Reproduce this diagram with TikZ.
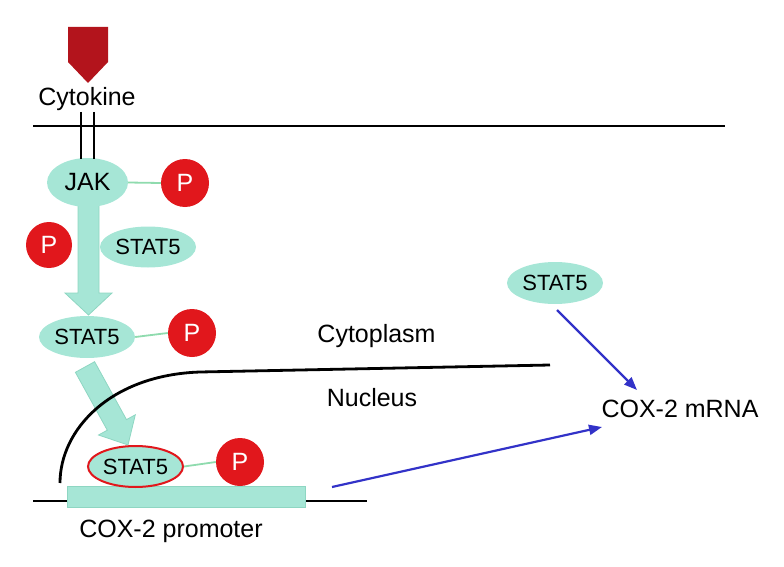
\documentclass[tikz,border=0pt]{standalone}
\usepackage{fontspec}
\setmainfont{Liberation Sans}
\usetikzlibrary{shapes.geometric,arrows.meta}
\definecolor{teal1}{HTML}{A6E6D6}
\definecolor{tealedge}{HTML}{8ED6C2}
\definecolor{pred}{HTML}{E1171C}
\definecolor{cytored}{HTML}{B3141C}
\definecolor{blu}{HTML}{3232C8}
\definecolor{linkgreen}{HTML}{8FDBAE}
\tikzset{
  lbl/.style={font=\fontsize{25}{28}\selectfont, inner sep=0pt, anchor=base},
  prot/.style={ellipse, fill=teal1, inner sep=0pt, minimum width=96pt, minimum height=42pt, font=\fontsize{22}{24}\selectfont},
  phos/.style={circle, fill=pred, inner sep=0pt, minimum size=48pt, text=white, font=\fontsize{25}{28}\selectfont},
  link/.style={linkgreen, line width=1.8pt},
  bigarrow/.style={fill=teal1, draw=tealedge, line width=0.8pt},
  blk/.style={black, line width=2.8pt},
  bluearrow/.style={blu, line width=2.2pt, -{Triangle[length=13pt,width=10pt]}}
}
\begin{document}
\begin{tikzpicture}[x=1pt,y=-1pt]
\useasboundingbox (0,0) rectangle (784,567);
% cytokine
\fill[cytored] (68,27) -- (108,27) -- (108,62) -- (88,83) -- (68,62) -- cycle;
\node[lbl] (cyto) at (87,106) {Cytokine};
% membrane
\coordinate (memL) at (33,126);
\coordinate (memR) at (725,126);
\draw[blk] (memL) -- (memR);
% big vertical arrow
\draw[bigarrow] (78,200) -- (99,200) -- (99,293) -- (112,293) -- (88.5,315) -- (65,293) -- (78,293) -- cycle;
% JAK
\node[prot, minimum width=81pt, minimum height=49pt, font=\fontsize{25}{28}\selectfont] (jak) at (87.5,182.5) {JAK};
\coordinate (r1t) at (81,112);
\coordinate (r2t) at (94,112);
\draw[blk, line width=2.6pt] (r1t) -- (81,159);
\draw[blk, line width=2.6pt] (r2t) -- (94,159);
\node[phos] (p1) at (185,183) {P};
\draw[link] (jak.east) -- (p1.west);
% free P and STAT5
\node[phos, minimum size=46pt] (p2) at (49,245) {P};
\node[prot, minimum height=41pt] (s1) at (148,247) {STAT5};
% second STAT5
\node[prot] (s2) at (87,337) {STAT5};
\node[phos] (p3) at (192,333) {P};
\draw[link] (s2.east) -- (p3.west);
% diagonal arrow
\draw[bigarrow] (94.6,361.7) -- (126.5,419.6) -- (135.3,414.8) -- (128,445) -- (98.5,435.0) -- (107.3,430.2) -- (75.4,372.3) -- cycle;
% nuclear envelope
\coordinate (nucA) at (60,483);
\coordinate (nucB) at (550,365);
\draw[blk] (nucA) .. controls (60,430) and (110,375) .. (200,372) -- (nucB);
% DNA and promoter
\coordinate (dnaL) at (33,501);
\coordinate (dnaR) at (367,501);
\draw[blk] (dnaL) -- (dnaR);
\node[draw=tealedge, fill=teal1, line width=1pt, minimum width=238pt, minimum height=21pt, inner sep=0pt] (prom) at (186,496.5) {};
% bound STAT5
\node[prot, draw=pred, line width=2pt, minimum width=95pt, minimum height=41pt] (s3) at (135.5,466.5) {STAT5};
\node[phos] (p4) at (240,462) {P};
\draw[link] (s3.east) -- (p4.west);
\node[lbl] (promlbl) at (171,537) {COX-2 promoter};
% labels
\node[lbl] (cytoplasm) at (376.5,342) {Cytoplasm};
\node[lbl] (nucleus) at (372,406) {Nucleus};
% right side
\node[prot] (s4) at (555,283) {STAT5};
\node[lbl] (mrna) at (680,417) {COX-2 mRNA};
\coordinate (tipA) at (637,390);
\coordinate (tipB) at (602,427);
\coordinate (startB) at (332,487);
\draw[bluearrow] (557,310) -- (tipA);
\draw[bluearrow] (startB) -- (tipB);
\end{tikzpicture}
\end{document}
